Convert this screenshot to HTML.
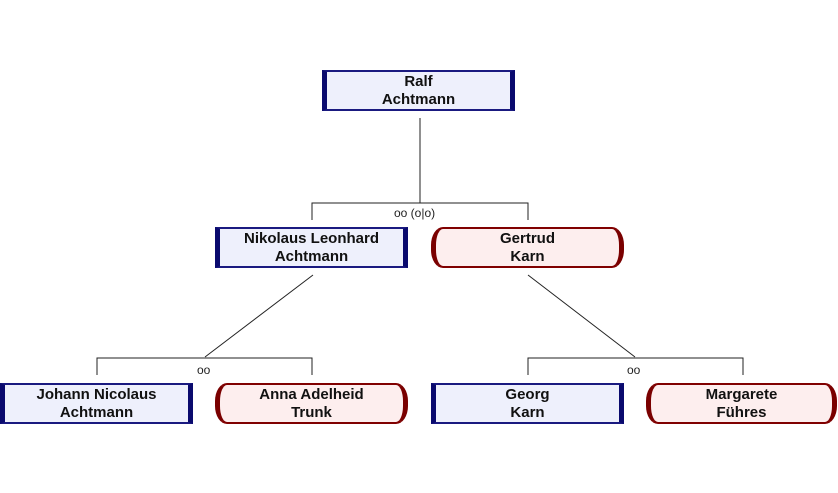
<!DOCTYPE html>
<html><head><style>
body{margin:0;width:838px;height:493px;background:#fff;position:relative;overflow:hidden;font-family:"Liberation Sans",Arial,sans-serif}
.b{position:absolute;box-sizing:border-box;width:193px;height:41px;display:flex;align-items:center;justify-content:center;text-align:center;font-weight:bold;font-size:15px;line-height:18px;color:#111}
.m{background:#eef0fc;border:2px solid #1a1a80;border-left:5px solid #0a0a6e;border-right:5px solid #0a0a6e}
.f{background:#fdeeee;border:2px solid #800000;border-left:5px solid #7a0000;border-right:5px solid #7a0000;border-radius:12px/18px}
.l{position:absolute;font-size:12px;color:#222}
svg{position:absolute;left:0;top:0}
</style></head><body>
<svg width="838" height="493"><g stroke="#222" stroke-width="1" fill="none">
<path d="M420 118V203M312 220V203H528V220"/>
<path d="M313 275L205 357M97 375V358H312V375"/>
<path d="M528 275L635 357M528 375V358H743V375"/>
</g></svg>
<div class="l" style="left:394px;top:206px">oo (o|o)</div>
<div class="l" style="left:197px;top:363px">oo</div>
<div class="l" style="left:627px;top:363px">oo</div>
<div class="b m" style="left:322px;top:70px">Ralf<br>Achtmann</div>
<div class="b m" style="left:215px;top:227px">Nikolaus Leonhard<br>Achtmann</div>
<div class="b f" style="left:431px;top:227px">Gertrud<br>Karn</div>
<div class="b m" style="left:0px;top:383px">Johann Nicolaus<br>Achtmann</div>
<div class="b f" style="left:215px;top:383px">Anna Adelheid<br>Trunk</div>
<div class="b m" style="left:431px;top:383px">Georg<br>Karn</div>
<div class="b f" style="left:646px;top:383px;width:191px">Margarete<br>Führes</div>
</body></html>
